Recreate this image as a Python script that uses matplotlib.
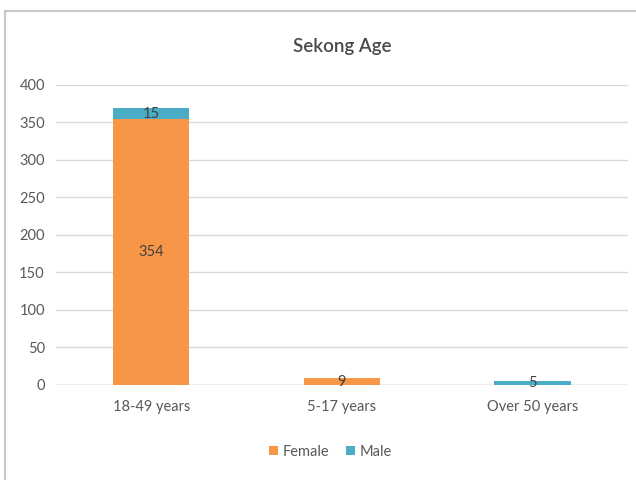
import matplotlib.pyplot as plt
from matplotlib.lines import Line2D

plt.rcParams['font.family'] = ['Lato', 'DejaVu Sans']

categories = ["18-49 years", "5-17 years", "Over 50 years"]
female = [354, 9, 0]
male = [15, 0, 5]

orange = "#F79646"
blue = "#4BACC6"
text_gray = "#595959"

fig = plt.figure(figsize=(6.36, 4.8), dpi=100)
ax = fig.add_axes([0.088, 0.198, 0.899, 0.625])

x = range(len(categories))
ax.bar(x, female, width=0.4, color=orange, label="Female", zorder=2)
ax.bar(x, male, width=0.4, bottom=female, color=blue, label="Male", zorder=2)

# value labels at the middle of each non-empty segment
for i in x:
    if female[i]:
        ax.text(i, female[i] / 2, str(female[i]), ha="center", va="center",
                fontsize=10.5, color="#404040", zorder=3)
    if male[i]:
        ax.text(i, female[i] + male[i] / 2, str(male[i]), ha="center", va="center",
                fontsize=10.5, color="#404040", zorder=3)

ax.set_xlim(-0.5, 2.5)
ax.set_ylim(0, 400)
ax.set_yticks(range(0, 401, 50))
ax.set_xticks(list(x))
ax.set_xticklabels(categories)
ax.grid(axis="y", color="#D9D9D9", linewidth=1, zorder=0)
ax.axhline(0, color="#C8C8C8", linewidth=1, zorder=1)
for s in ax.spines.values():
    s.set_visible(False)
ax.tick_params(length=0, labelsize=10.5, colors=text_gray, pad=8)
ax.tick_params(axis="x", pad=11)

ax.set_title("Sekong Age", fontsize=13.5, fontweight="semibold", color="#4a4a4a", pad=24)

ax.legend(loc="upper center", bbox_to_anchor=(0.48, -0.155), ncol=2, frameon=False,
          fontsize=10.5, labelcolor=text_gray, handlelength=0.6, handleheight=0.6,
          handletextpad=0.3, columnspacing=1.2)

# outer frame lines along the top and left edges
fig.add_artist(Line2D([0.008, 1.0], [0.977, 0.977], color="#C8C8C8", linewidth=1.5))
fig.add_artist(Line2D([0.008, 0.008], [0.0, 0.977], color="#C8C8C8", linewidth=1.5))

fig.savefig("out.png", dpi=100)
